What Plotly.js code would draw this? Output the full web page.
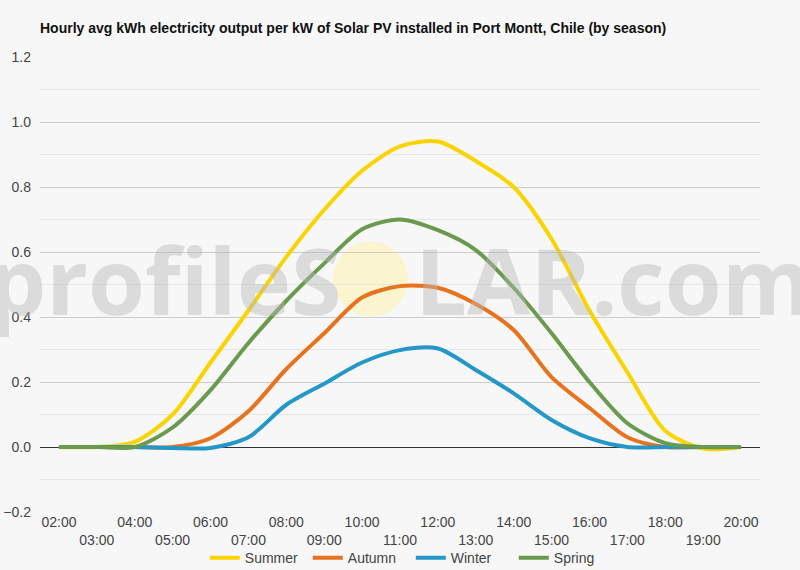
<!DOCTYPE html>
<html>
<head>
<meta charset="utf-8">
<script src="https://cdn.plot.ly/plotly-3.0.1.min.js"></script>
<style>
  body { margin: 0; background: #f7f7f7; }
  #chart { width: 800px; height: 570px; }
</style>
</head>
<body>
<div id="chart"></div>
<script>
// Hourly values
var hours = ['02:00', '03:00', '04:00', '05:00', '06:00', '07:00', '08:00', '09:00', '10:00', '11:00',
             '12:00', '13:00', '14:00', '15:00', '16:00', '17:00', '18:00', '19:00', '20:00'];

var summer = [0, 0, 0.016, 0.10, 0.26, 0.42, 0.585, 0.73, 0.85, 0.925, 0.94, 0.88, 0.80, 0.64, 0.42, 0.23, 0.05, -0.005, 0];
var autumn = [0, 0, 0, 0, 0.027, 0.11, 0.24, 0.35, 0.46, 0.495, 0.49, 0.44, 0.36, 0.215, 0.12, 0.03, 0, 0, 0];
var winter = [0, 0, 0, -0.003, -0.003, 0.03, 0.13, 0.195, 0.26, 0.298, 0.303, 0.237, 0.165, 0.083, 0.027, 0, 0, 0, 0];
var spring = [0, 0, 0, 0.06, 0.175, 0.32, 0.45, 0.565, 0.67, 0.70, 0.667, 0.606, 0.49, 0.35, 0.20, 0.073, 0.012, 0, 0];

var seriesNames = ['Summer', 'Autumn', 'Winter', 'Spring'];
var seriesValues = [summer, autumn, winter, spring];
var seriesColors = ['#fbd400', '#e8731f', '#2497c8', '#6a9a4e'];

// Every other label drops to a second row
var tickText = hours.map(function (h, i) { return i % 2 === 0 ? h : '<br>' + h; });

var data = seriesNames.map(function (name, k) {
    return {
        x: hours,
        y: seriesValues[k],
        name: name,
        mode: 'lines',
        type: 'scatter',
        line: { color: seriesColors[k], width: 4, shape: 'spline', smoothing: 0.8 },
        hoverinfo: 'skip'
    };
});

var layout = {
    width: 800,
    height: 570,
    paper_bgcolor: '#f7f7f7',
    plot_bgcolor: '#f7f7f7',
    font: { family: 'Liberation Sans, Arial, sans-serif', color: '#444', size: 14 },
    title: {
        text: '<b>Hourly avg kWh electricity output per kW of Solar PV installed in Port Montt, Chile (by season)</b>',
        x: 0.05, xanchor: 'left',
        y: 0.951, yanchor: 'middle',
        font: { size: 14, color: '#111' }
    },
    margin: { l: 40, r: 40, t: 57, b: 58 },
    showlegend: true,
    legend: {
        orientation: 'h',
        xref: 'container', yref: 'container',
        x: 0.256, xanchor: 'left',
        y: 0.021, yanchor: 'middle',
        entrywidth: 58, entrywidthmode: 'pixels',
        bgcolor: 'rgba(0,0,0,0)',
        font: { size: 14, color: '#444' },
        traceorder: 'normal'
    },
    xaxis: {
        type: 'category',
        range: [-0.5, 18.5],
        tickvals: hours,
        ticktext: tickText,
        tickangle: 0,
        showgrid: false,
        showline: false,
        ticks: '',
        automargin: false,
        fixedrange: true,
        tickfont: { size: 14, color: '#444' }
    },
    yaxis: {
        range: [-0.2, 1.2],
        dtick: 0.2,
        tick0: 0,
        tickformat: '.1f',
        gridcolor: '#cccccc',
        gridwidth: 1,
        minor: { dtick: 0.1, gridcolor: '#e6e6e6', gridwidth: 1, showgrid: true },
        zeroline: true,
        zerolinecolor: '#333',
        zerolinewidth: 1,
        ticks: '',
        ticklabelstandoff: 8,
        automargin: false,
        fixedrange: true,
        tickfont: { size: 14, color: '#444' }
    },
    shapes: [{
        type: 'circle',
        xref: 'paper', yref: 'paper',
        x0: (370.5 - 37.5 - 40) / 720, x1: (370.5 + 37.5 - 40) / 720,
        y0: (512 - 279 - 37.5) / 455, y1: (512 - 279 + 37.5) / 455,
        fillcolor: 'rgba(252, 244, 180, 0.6)',
        line: { width: 0 },
        layer: 'below'
    }],
    annotations: [{
        text: 'profileS<span style="color:rgba(0,0,0,0)">O</span>LAR.com',
        xref: 'paper', yref: 'paper',
        x: 0.5, y: 0.51,
        xanchor: 'center', yanchor: 'middle',
        showarrow: false,
        font: { family: 'Open Sans, sans-serif', size: 92, color: 'rgba(185,185,185,0.45)', weight: 700 }
    }]
};

Plotly.newPlot('chart', data, layout, { staticPlot: true });
</script>
</body>
</html>
